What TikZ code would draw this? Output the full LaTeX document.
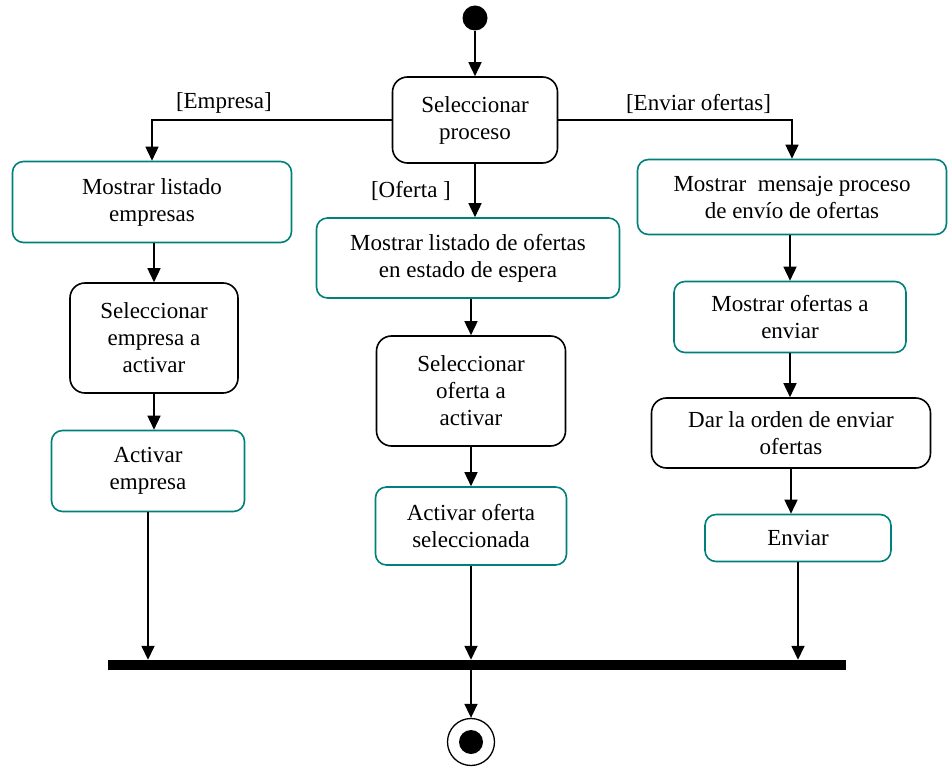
\documentclass[tikz,border=0pt]{standalone}
\usepackage{fontspec}
\setmainfont{Liberation Serif}
\usetikzlibrary{arrows.meta,positioning,calc}
\definecolor{cT}{HTML}{00807A}
\tikzset{
  accion/.style={rounded corners=11pt,draw=cT,line width=1.6pt,align=center,inner sep=2pt},
  tarea/.style={rounded corners=15pt,draw=black,line width=1.6pt,align=center,inner sep=2pt},
  flujo/.style={-{Triangle[length=14pt,width=13pt]},line width=1.6pt},
  inicio/.style={circle,fill=black,minimum size=25pt,inner sep=0pt},
  fin/.style={circle,draw,line width=1.3pt,minimum size=47pt,inner sep=0pt,
    path picture={\fill (path picture bounding box.center) circle (12pt);}},
  barra/.style={fill=black,minimum width=738pt,minimum height=10pt,inner sep=0pt},
}

\begin{document}
\begin{tikzpicture}[x=1pt,y=-1pt,font=\rmfamily\fontsize{23}{27}\selectfont]
  \useasboundingbox (0,0) rectangle (948,767);
  % start and choice
  \node[inicio] (start) at (475,18) {};
  \node[tarea,minimum width=165pt,minimum height=86pt] (proc) at (475,120) {Seleccionar\\proceso};
  \draw[flujo] (start) -- (proc);

  % empresas
  \node[accion,minimum width=279pt,minimum height=81pt] (emp1) at (152,202) {Mostrar listado\\empresas};
  \node[tarea,minimum width=168pt,minimum height=110pt] (emp2) at (154,338) {Seleccionar\\empresa a\\activar};
  \node[accion,minimum width=193pt,minimum height=81pt] (emp3) at (148,471) {Activar\\empresa};

  % ofertas
  \node[accion,minimum width=303pt,minimum height=80pt] (of1) at (468,258) {Mostrar listado de ofertas\\en estado de espera};
  \node[tarea,minimum width=189pt,minimum height=110pt] (of2) at (471,391) {Seleccionar\\oferta a\\activar};
  \node[accion,minimum width=191pt,minimum height=78pt] (of3) at (471,526) {Activar oferta\\seleccionada};

  % enviar ofertas
  \node[accion,minimum width=309pt,minimum height=75pt] (en1) at (792,197) {Mostrar\ \ mensaje proceso\\de envío de ofertas};
  \node[accion,minimum width=232pt,minimum height=71pt] (en2) at (790,317) {Mostrar ofertas a\\enviar};
  \node[tarea,minimum width=279pt,minimum height=70pt] (en3) at (791,433) {Dar la orden de enviar\\ofertas};
  \node[accion,minimum width=186pt,minimum height=47pt] (en4) at (798,538) {Enviar};

  % branches
  \draw[flujo] (proc.west) -| node[pos=0.35,above=2pt] {[Empresa]} (emp1.north);
  \draw[flujo] (proc.east) -| node[pos=0.3,above=2pt] {[Enviar ofertas]} (en1.north);
  \draw[flujo] (proc.south) -- node[left=20pt] {[Oferta ]} (proc.south |- of1.north);

  \draw[flujo] (emp2.north |- emp1.south) -- (emp2.north);
  \draw[flujo] (emp2.south) -- (emp2.south |- emp3.north);
  \draw[flujo] (of1.south -| of2.north) -- (of2.north);
  \draw[flujo] (of2.south) -- (of2.south |- of3.north);
  \draw[flujo] (en1.south -| en2.north) -- (en2.north);
  \draw[flujo] (en2.south) -- (en2.south |- en3.north);
  \draw[flujo] (en3.south) -- (en3.south |- en4.north);

  % join and end
  \node[barra] (join) at (477,665) {};
  \node[fin] (end) at (471,742) {};
  \draw[flujo] (emp3.south) -- (emp3.south |- join.north);
  \draw[flujo] (of3.south) -- (of3.south |- join.north);
  \draw[flujo] (en4.south) -- (en4.south |- join.north);
  \draw[flujo] (end.north |- join.south) -- (end.north);
\end{tikzpicture}
\end{document}
